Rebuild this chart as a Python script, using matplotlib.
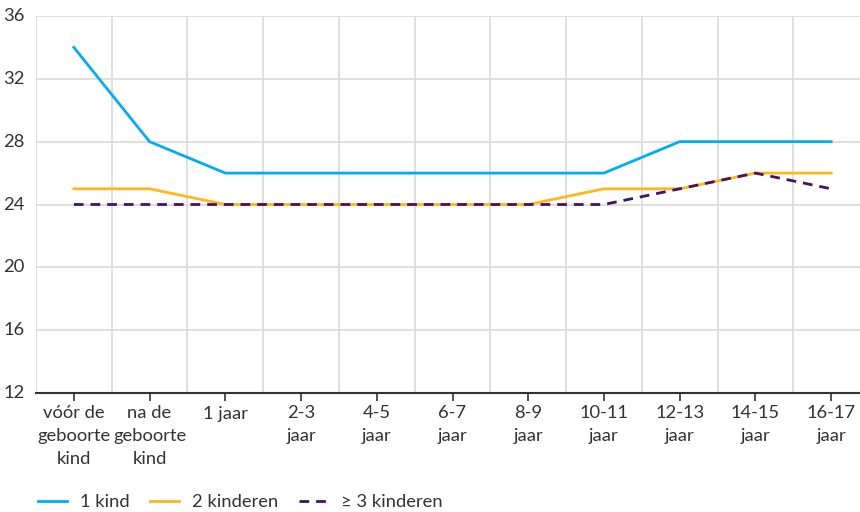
import numpy as np
import matplotlib
matplotlib.use("Agg")
import matplotlib.pyplot as plt

plt.rcParams['font.family'] = ['Lato', 'DejaVu Sans']

categories = ['vóór de\ngeboorte\nkind', 'na de\ngeboorte\nkind', '1 jaar', '2-3\njaar', '4-5\njaar',
              '6-7\njaar', '8-9\njaar', '10-11\njaar', '12-13\njaar', '14-15\njaar', '16-17\njaar']
een_kind = [34, 28, 26, 26, 26, 26, 26, 26, 28, 28, 28]
twee_kinderen = [25, 25, 24, 24, 24, 24, 24, 25, 25, 26, 26]
drie_kinderen = [24, 24, 24, 24, 24, 24, 24, 24, 25, 26, 25]
y_ticks = [12, 16, 20, 24, 28, 32, 36]

fs = 13.2
fig = plt.figure(figsize=(8.6, 5.12), dpi=100)
ax = fig.add_axes([36 / 860, 119 / 512, 833 / 860, 377 / 512])

x = np.arange(len(categories))
ax.plot(x, een_kind, color='#00AEEF', lw=2, label='1 kind')
ax.plot(x, twee_kinderen, color='#FFB81C', lw=2, label='2 kinderen')
ax.plot(x, drie_kinderen, color='#42145F', lw=2, ls=(0, (3.5, 2.5)), label='≥ 3 kinderen')

ax.set_xlim(-0.5, len(categories) - 0.5)
ax.set_ylim(12, 36)
ax.set_yticks(y_ticks)
ax.set_xticks(x)
ax.set_xticklabels(categories, fontsize=fs, color='#333333', linespacing=1.5)
ax.set_xticks(np.arange(-0.5, len(categories)), minor=True)
ax.tick_params(axis='x', which='major', length=6, width=1.2, color='#333333', pad=3)
ax.tick_params(axis='x', which='minor', length=0)
ax.tick_params(axis='y', length=0, labelsize=fs, labelcolor='#333333', pad=8)
for t in ax.get_yticklabels():
    t.set_verticalalignment('center')

ax.grid(True, axis='y', color='#d9d9d9', lw=1.2)
ax.grid(True, axis='x', which='minor', color='#d9d9d9', lw=1.2)
ax.set_axisbelow(True)
for s in ['top', 'right', 'left']:
    ax.spines[s].set_visible(False)
ax.spines['bottom'].set_color('#333333')
ax.spines['bottom'].set_linewidth(1.5)

fig.legend(loc='center left', bbox_to_anchor=(38 / 860, 10 / 512), ncol=3, frameon=False,
           fontsize=fs, handlelength=1.6, handletextpad=0.7, columnspacing=1.1,
           borderpad=0, borderaxespad=0, labelcolor='#333333')

fig.savefig('out.png', dpi=100)
